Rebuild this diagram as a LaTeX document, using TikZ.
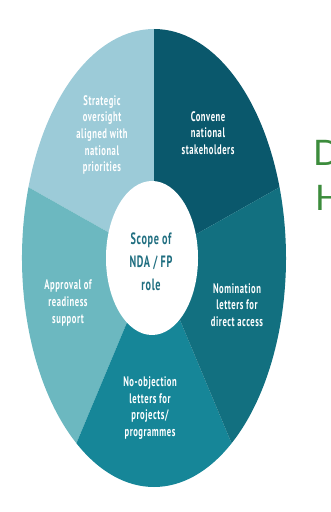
\documentclass[tikz,border=0pt]{standalone}
\usepackage{fontspec}
\setmainfont{PT Sans}[FakeStretch=0.62, LetterSpace=4]
\newfontfamily\titlefont{Lato}
\usepackage{xcolor}
\usetikzlibrary{positioning}

\definecolor{oversightc}{HTML}{9CCBD8}
\definecolor{convenec}{HTML}{0A586C}
\definecolor{nominationc}{HTML}{127080}
\definecolor{objectionc}{HTML}{168698}
\definecolor{approvalc}{HTML}{6CB8C0}
\definecolor{scopec}{HTML}{1F6E80}
\definecolor{titlec}{HTML}{3C8C3C}

\begin{document}
\begin{tikzpicture}[
    scale=0.03,
    segment/.style={draw=none},
    role/.style={text=white, align=center, inner sep=0pt, font=\bfseries\fontsize{11.8}{14.2}\selectfont},
    hub/.style={text=scopec, align=center, inner sep=0pt, font=\bfseries\fontsize{14}{19.5}\selectfont},
    heading/.style={text=titlec, inner sep=0pt, anchor=base west, font=\titlefont\fontsize{30}{30}\selectfont}
]
    \useasboundingbox (0,0) rectangle (330,512);
    \clip (0,0) rectangle (330,512);
    \coordinate (c) at (154,254);

    % Segments
    \fill[segment, convenec] (c) -- ++(18:132 and 229) arc[start angle=18, end angle=90, x radius=132, y radius=229] -- cycle;
    \fill[segment, oversightc] (c) -- ++(90:132 and 229) arc[start angle=90, end angle=162, x radius=132, y radius=229] -- cycle;
    \fill[segment, approvalc] (c) -- ++(162:132 and 229) arc[start angle=162, end angle=234, x radius=132, y radius=229] -- cycle;
    \fill[segment, objectionc] (c) -- ++(234:132 and 229) arc[start angle=234, end angle=306, x radius=132, y radius=229] -- cycle;
    \fill[segment, nominationc] (c) -- ++(306:132 and 229) arc[start angle=306, end angle=378, x radius=132, y radius=229] -- cycle;
    \fill[white] (152,254) ellipse[x radius=46, y radius=77];

    % Labels
    \node[hub] (scope) at (151,250) {Scope of\\NDA / FP\\role};
    \node[role] (oversight) at (102,377) {Strategic\\oversight\\aligned with\\national\\priorities};
    \node[role] (convene) at (208,379) {Convene\\national\\stakeholders};
    \node[role] (approval) at (68,209) {Approval of\\readiness\\support};
    \node[role] (nomination) at (237,207) {Nomination\\letters for\\direct access};
    \node[role] (objection) at (150,104) {No-objection\\letters for\\projects/\\programmes};

    % Title letters at the edge
    \node[heading] (titled) at (313,346) {D};
    \node[heading] (titleh) at (315,301) {H};
\end{tikzpicture}
\end{document}
